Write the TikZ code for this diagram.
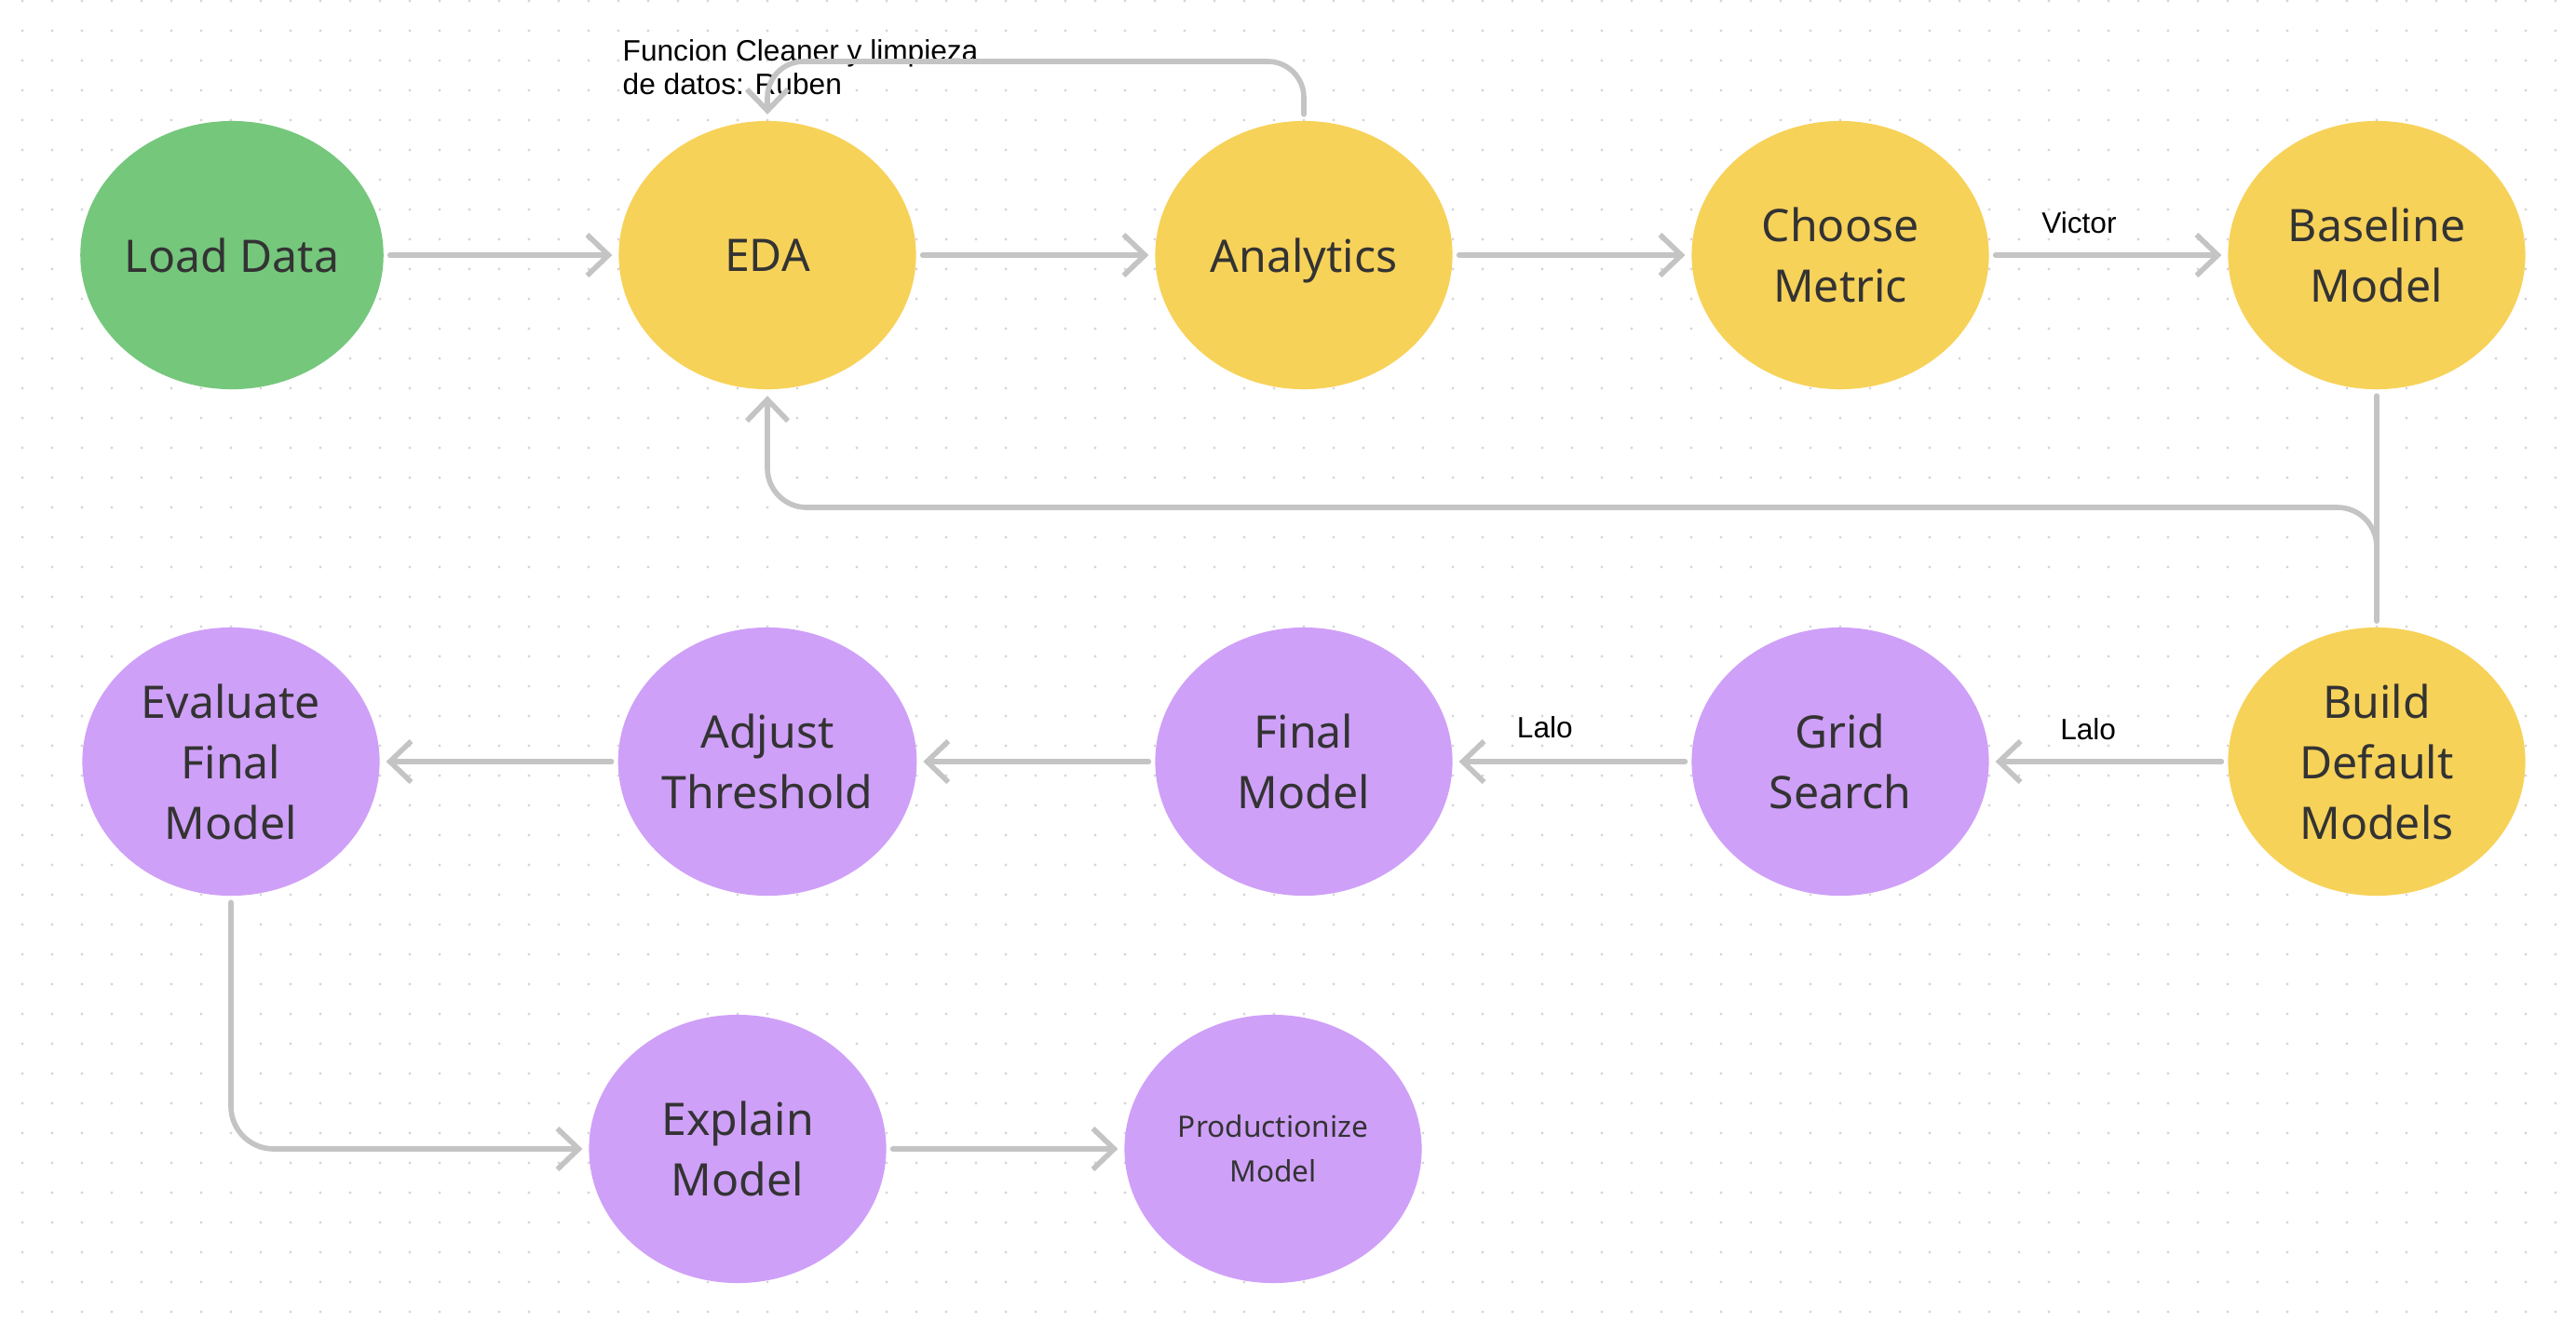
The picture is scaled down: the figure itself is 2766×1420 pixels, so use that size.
\documentclass[tikz,border=0pt]{standalone}
\usepackage{fontspec}
\setmainfont{Liberation Sans}
\newfontfamily\stagefont{Noto Sans}
\usetikzlibrary{shapes.geometric,arrows.meta}
\definecolor{loadgreen}{HTML}{75C77C}
\definecolor{edayellow}{HTML}{F7D259}
\definecolor{modelpurple}{HTML}{CFA0F8}
\definecolor{flowgray}{HTML}{C4C4C4}
\definecolor{stagetext}{HTML}{333333}
\definecolor{griddot}{HTML}{D6D6D6}

\begin{document}
\begin{tikzpicture}[x=0.01cm,y=-0.01cm]
\tikzstyle{stage}=[ellipse,minimum width=3.19cm,minimum height=2.88cm,inner sep=0pt,outer sep=2pt,align=center,text=stagetext,font=\stagefont\fontsize{13.7}{18.5}\selectfont]
\tikzstyle{flow}=[draw=flowgray,line width=1.6pt,line cap=round,-{Straight Barb[length=6.5pt,width=12.5pt,line width=1.6pt]}]
\tikzstyle{lbl}=[text=black,font=\fontsize{9}{10.2}\selectfont]
\useasboundingbox (0,0) rectangle (2766,1420);
\fill[white] (0,0) rectangle (2766,1420);
% dotted background
\foreach \x in {24,56,...,2766}
  \foreach \y in {1,33,...,1420}
    \fill[griddot] (\x,\y) circle (0.45pt);
\foreach \name/\point/\col/\txt in {
	load/{249,274}/loadgreen/{Load Data},
	eda/{824,274}/edayellow/EDA,
	analytics/{1400,274}/edayellow/{\raisebox{0pt}[\height][0pt]{Analytics}},
	metric/{1976,274}/edayellow/{Choose\\Metric},
	baseline/{2552,274}/edayellow/{Baseline\\Model},
	build/{2552,818}/edayellow/{Build\\Default\\Models},
	grid/{1976,818}/modelpurple/{Grid\\Search},
	final/{1400,818}/modelpurple/{Final\\Model},
	adjust/{824,818}/modelpurple/{Adjust\\Threshold},
	evaluate/{248,818}/modelpurple/{Evaluate\\Final\\Model},
	explain/{792,1234}/modelpurple/{Explain\\Model}}
	\node[stage,fill=\col] (\name) at (\point) {\txt};
\node[stage,fill=modelpurple,font=\stagefont\fontsize{9}{13.6}\selectfont] (product) at (1367,1234) {Productionize\\Model};
\node[lbl,anchor=north west,align=left,inner sep=0pt] (cleaner) at (668,42) {Funcion Cleaner y limpieza\\de datos: Ruben};
% first row
\draw[flow] (load) -- (eda);
\draw[flow] (eda) -- (analytics);
\draw[flow] (analytics) -- (metric);
\draw[flow] (metric) -- (baseline) node[lbl,pos=0.37,above=2.4pt] {Victor};
\coordinate (loop) at (1100,66);
\draw[flow,rounded corners=11pt] (analytics.north) |- (loop) -| (eda.north);
% back to EDA
\draw[flowgray,line width=1.6pt,line cap=round] (baseline) -- (build);
\coordinate (back) at (1600,545);
\draw[flow,rounded corners=12pt] (build.north) |- (back) -| (eda.south);
% second row
\draw[flow] (build) -- (grid) node[lbl,pos=0.59,above=2.4pt] {Lalo};
\draw[flow] (grid) -- (final) node[lbl,pos=0.62,above=3pt] {Lalo};
\draw[flow] (final) -- (adjust);
\draw[flow] (adjust) -- (evaluate);
% third row
\draw[flow,rounded corners=13pt] (evaluate.south) |- (explain.west);
\draw[flow] (explain) -- (product);
\end{tikzpicture}
\end{document}
